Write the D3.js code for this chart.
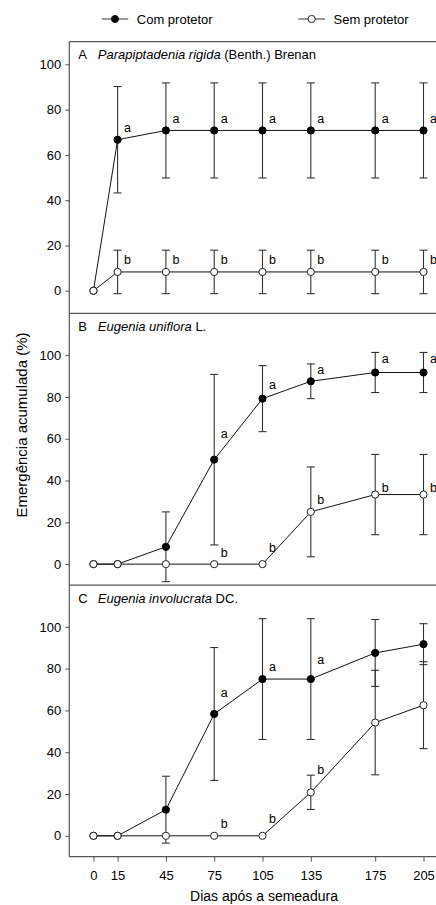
<!DOCTYPE html>
<html lang="pt">
<head>
    <meta charset="UTF-8">
    <title>Emergência acumulada</title>
    <script src="https://d3js.org/d3.v7.min.js"></script>
    <style>
        body { margin: 0; background: #fff; }
        svg { display: block; font-family: "Liberation Sans", Arial, sans-serif; }
    </style>
</head>
<body>
    <svg></svg>
    <script>
        // Data
        const days = [0, 15, 45, 75, 105, 135, 175, 205];
        const xTicks = [0, 15, 45, 75, 105, 135, 175, 205];
        const yTicks = [0, 20, 40, 60, 80, 100];
        const panelLetters = ["A", "B", "C"];
        const speciesItalic = ["Parapiptadenia rigida", "Eugenia uniflora", "Eugenia involucrata"];
        const speciesAuthor = [" (Benth.) Brenan", " L.", " DC."];

        // A - Parapiptadenia rigida
        const comA = [0, 66.7, 70.8, 70.8, 70.8, 70.8, 70.8, 70.8];
        const comAErr = [0, 23.5, 21, 21, 21, 21, 21, 21];
        const comALetters = ["", "a", "a", "a", "a", "a", "a", "a"];
        const comALetterAt = [0, 70.3, 74.1, 74.1, 74.1, 74.1, 74.1, 74.1];
        const semA = [0, 8.3, 8.3, 8.3, 8.3, 8.3, 8.3, 8.3];
        const semAErr = [0, 9.6, 9.6, 9.6, 9.6, 9.6, 9.6, 9.6];
        const semALetters = ["", "b", "b", "b", "b", "b", "b", "b"];
        const semALetterAt = [0, 11.8, 11.8, 11.8, 11.8, 11.8, 11.8, 11.8];

        // B - Eugenia uniflora
        const comB = [0, 0, 8.3, 50, 79.2, 87.5, 91.7, 91.7];
        const comBErr = [0, 0, 16.7, 40.8, 15.8, 8.3, 9.6, 9.6];
        const comBLetters = ["", "", "", "a", "a", "a", "a", "a"];
        const comBLetterAt = [0, 0, 0, 60.3, 83.8, 90.8, 96.1, 96.1];
        const semB = [0, 0, 0, 0, 0, 25, 33.3, 33.3];
        const semBErr = [0, 0, 0, 0, 0, 21.5, 19.2, 19.2];
        const semBLetters = ["", "", "", "b", "b", "b", "b", "b"];
        const semBLetterAt = [0, 0, 0, 3.4, 5.6, 28.9, 34.7, 34.7];

        // C - Eugenia involucrata
        const comC = [0, 0, 12.5, 58.3, 75, 75, 87.5, 91.7];
        const comCErr = [0, 0, 16, 31.8, 28.9, 28.9, 16, 9.8];
        const comCLetters = ["", "", "", "a", "a", "a", "", ""];
        const comCLetterAt = [0, 0, 0, 66.6, 79.1, 82.2, 0, 0];
        const semC = [0, 0, 0, 0, 0, 20.8, 54.2, 62.5];
        const semCErr = [0, 0, 0, 0, 0, 8.2, 25, 20.8];
        const semCLetters = ["", "", "", "b", "b", "b", "", ""];
        const semCLetterAt = [0, 0, 0, 3.9, 6.3, 29.8, 0, 0];

        const panels = [
            {com: comA, comErr: comAErr, comL: comALetters, comAt: comALetterAt,
             sem: semA, semErr: semAErr, semL: semALetters, semAt: semALetterAt, yMax: 110},
            {com: comB, comErr: comBErr, comL: comBLetters, comAt: comBLetterAt,
             sem: semB, semErr: semBErr, semL: semBLetters, semAt: semBLetterAt, yMax: 120},
            {com: comC, comErr: comCErr, comL: comCLetters, comAt: comCLetterAt,
             sem: semC, semErr: semCErr, semL: semCLetters, semAt: semCLetterAt, yMax: 120}
        ];

        const width = 436, height = 905;
        const plotLeft = 69.3, plotTop = 41.7, plotBottom = 856.7;
        const panelH = (plotBottom - plotTop) / 3;
        const axisColor = "#555";

        const svg = d3.select("svg")
            .attr("width", width)
            .attr("height", height);

        // Shared x scale
        const x = d3.scaleLinear()
            .domain([-15, 215])
            .range([plotLeft, plotLeft + 230 * 1.61]);

        const line = d3.line()
            .x(d => x(d.day))
            .y(d => d.y);

        panels.forEach((p, i) => {
            const y0 = plotTop + i * panelH;
            const y = d3.scaleLinear()
                .domain([-10, p.yMax])
                .range([y0 + panelH, y0]);

            const g = svg.append("g");

            // Top border of panel
            g.append("line")
                .attr("x1", plotLeft).attr("x2", width)
                .attr("y1", y0).attr("y2", y0)
                .attr("stroke", axisColor).attr("stroke-width", 1.2);

            // Y axis
            const yAxis = g.append("g")
                .attr("transform", `translate(${plotLeft},0)`)
                .call(d3.axisLeft(y).tickValues(yTicks).tickSize(4).tickPadding(4));
            yAxis.select(".domain").remove();
            yAxis.selectAll(".tick line").attr("stroke", axisColor);
            yAxis.selectAll(".tick text")
                .attr("fill", "#000")
                .style("font-size", "13px")
                .style("font-family", "Liberation Sans, Arial, sans-serif");

            // Panel title
            const title = g.append("text")
                .attr("x", plotLeft + 9)
                .attr("y", y0 + 17.5)
                .style("font-size", "13px");
            title.append("tspan").text(panelLetters[i]);
            title.append("tspan").attr("x", plotLeft + 28.5).style("font-style", "italic").text(speciesItalic[i]);
            title.append("tspan").text(speciesAuthor[i]);

            const comPts = days.map((d, j) => ({day: d, y: y(p.com[j]), v: p.com[j], e: p.comErr[j]}));
            const semPts = days.map((d, j) => ({day: d, y: y(p.sem[j]), v: p.sem[j], e: p.semErr[j]}));

            // Connecting lines
            [comPts, semPts].forEach(pts => {
                g.append("path")
                    .attr("d", line(pts))
                    .attr("fill", "none")
                    .attr("stroke", "#111")
                    .attr("stroke-width", 1);
            });

            // Error bars
            [comPts, semPts].forEach(pts => {
                const eb = g.append("g").attr("stroke", "#333").attr("stroke-width", 1.1);
                pts.filter(d => d.e > 0).forEach(d => {
                    const cx = x(d.day), yt = y(d.v + d.e), yb = y(d.v - d.e);
                    eb.append("line").attr("x1", cx).attr("x2", cx).attr("y1", yt).attr("y2", yb);
                    eb.append("line").attr("x1", cx - 4).attr("x2", cx + 4).attr("y1", yt).attr("y2", yt);
                    eb.append("line").attr("x1", cx - 4).attr("x2", cx + 4).attr("y1", yb).attr("y2", yb);
                });
            });

            // Dots
            g.selectAll(".com").data(comPts).enter().append("circle")
                .attr("cx", d => x(d.day)).attr("cy", d => d.y).attr("r", 3.6)
                .attr("fill", "#000").attr("stroke", "#000");
            g.selectAll(".sem").data(semPts).enter().append("circle")
                .attr("cx", d => x(d.day)).attr("cy", d => d.y).attr("r", 3.6)
                .attr("fill", "#fff").attr("stroke", "#222").attr("stroke-width", 1);

            // Significance letters
            [[p.comL, p.comAt], [p.semL, p.semAt]].forEach(([letters, at]) => {
                days.forEach((d, j) => {
                    if (!letters[j]) return;
                    g.append("text")
                        .attr("x", x(d) + 6.5)
                        .attr("y", y(at[j]))
                        .style("font-size", "12.5px")
                        .text(letters[j]);
                });
            });
        });

        // Left axis line and bottom axis
        svg.append("line")
            .attr("x1", plotLeft).attr("x2", plotLeft)
            .attr("y1", plotTop).attr("y2", plotBottom)
            .attr("stroke", axisColor).attr("stroke-width", 1.2);

        const xAxis = svg.append("g")
            .attr("transform", `translate(0,${plotBottom})`)
            .call(d3.axisBottom(x).tickValues(xTicks).tickSize(5).tickPadding(9));
        xAxis.select(".domain").remove();
        xAxis.append("line")
            .attr("x1", plotLeft).attr("x2", width)
            .attr("stroke", axisColor).attr("stroke-width", 1.2);
        xAxis.selectAll(".tick line").attr("stroke", axisColor);
        xAxis.selectAll(".tick text")
            .attr("fill", "#000")
            .style("font-size", "13px")
            .style("font-family", "Liberation Sans, Arial, sans-serif");

        // Axis titles
        svg.append("text")
            .attr("x", 264).attr("y", 901)
            .attr("text-anchor", "middle")
            .style("font-size", "14px")
            .text("Dias após a semeadura");

        svg.append("text")
            .attr("transform", "translate(27,425) rotate(-90)")
            .attr("text-anchor", "middle")
            .style("font-size", "15px")
            .text("Emergência acumulada (%)");

        // Legend
        const legend = [
            {label: "Com protetor", x1: 101.7, x2: 128.3, fill: "#000"},
            {label: "Sem protetor", x1: 298.3, x2: 325, fill: "#fff"}
        ];
        legend.forEach(l => {
            const lg = svg.append("g");
            lg.append("line")
                .attr("x1", l.x1).attr("x2", l.x2).attr("y1", 19).attr("y2", 19)
                .attr("stroke", "#333").attr("stroke-width", 1);
            lg.append("circle")
                .attr("cx", (l.x1 + l.x2) / 2).attr("cy", 19).attr("r", 3.6)
                .attr("fill", l.fill).attr("stroke", "#222");
            lg.append("text")
                .attr("x", l.x2 + 8.5).attr("y", 23.5)
                .style("font-size", "13px")
                .text(l.label);
        });
    </script>
</body>
</html>
